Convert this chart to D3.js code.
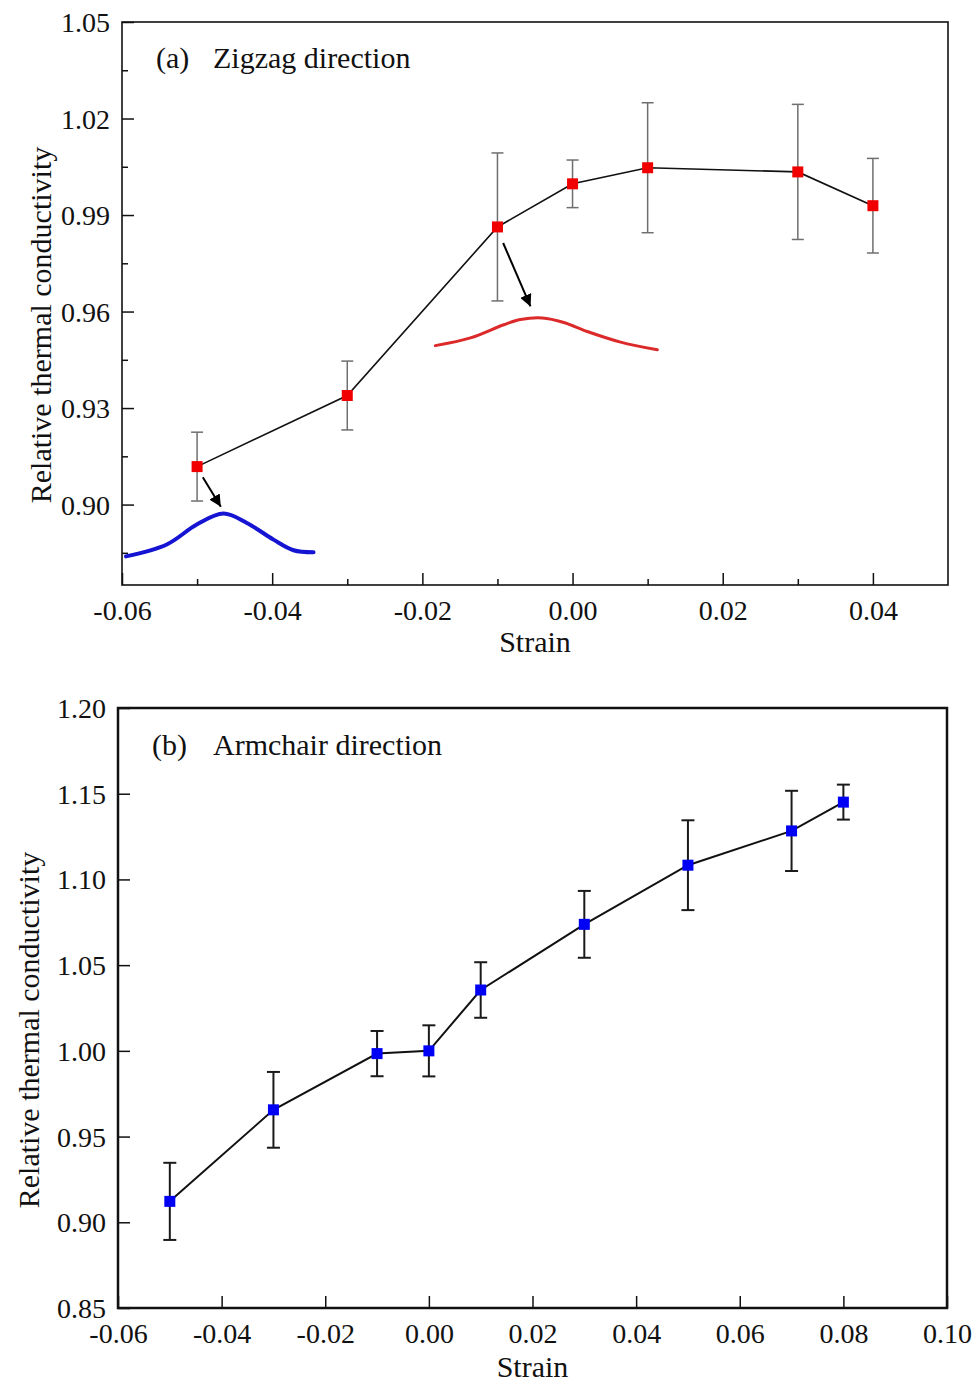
<!DOCTYPE html>
<html>
  <head>
    <meta charset="utf-8">
    <title>Relative thermal conductivity vs strain</title>
    <style>
    body { margin: 0; background: #fff; }
    svg text { font-family: "Liberation Serif", "Times New Roman", serif; fill: #111; }
    .tick line { stroke: #111; stroke-width: 1.5; }
    .tick text { font-size: 28px; }
    </style>
  </head>
  <body>
    <svg width="976" height="1382"></svg>
    <script src="https://d3js.org/d3.v7.min.js"></script>
    <script>

      // (a) zigzag direction
      var zigStrain = [-0.05, -0.03, -0.01, 0.00, 0.01, 0.03, 0.04];
      var zigValue  = [0.9118, 0.9339, 0.9863, 0.9997, 1.0047, 1.0034, 0.9929];
      var zigError  = [0.0107, 0.0107, 0.0230, 0.0074, 0.0202, 0.0210, 0.0147];
      var zigXTicks = [-0.06, -0.04, -0.02, 0.00, 0.02, 0.04];
      var zigXMinor = [-0.05, -0.03, -0.01, 0.01, 0.03, 0.05];
      var zigYTicks = [0.90, 0.93, 0.96, 0.99, 1.02, 1.05];
      var zigYMinor = [0.885, 0.915, 0.945, 0.975, 1.005, 1.035];

      // sketched curves inside panel (a), in data units [strain, value]
      var blueCurve = [[-0.05947, 0.8839], [-0.05404, 0.8876], [-0.05004, 0.8938], [-0.04649, 0.8972],
                       [-0.04337, 0.8943], [-0.03983, 0.8891], [-0.03716, 0.8858], [-0.03449, 0.8852]];
      var redCurve  = [[-0.01827, 0.9494], [-0.0136, 0.9518], [-0.00916, 0.9559], [-0.00693, 0.9575],
                       [-0.00404, 0.9580], [-0.00116, 0.9566], [0.00196, 0.9538], [0.0064, 0.9505], [0.01129, 0.9481]];
      var arrows    = [[[-0.04924, 0.9085], [-0.04684, 0.8993]],
                       [[-0.00924, 0.9813], [-0.00560, 0.9616]]];

      // (b) armchair direction
      var armStrain = [-0.05, -0.03, -0.01, 0.00, 0.01, 0.03, 0.05, 0.07, 0.08];
      var armValue  = [0.9122, 0.9656, 0.9984, 1.0000, 1.0355, 1.0738, 1.1083, 1.1283, 1.1451];
      var armError  = [0.0225, 0.0221, 0.0132, 0.0149, 0.0162, 0.0195, 0.0262, 0.0234, 0.0102];
      var armXTicks = [-0.06, -0.04, -0.02, 0.00, 0.02, 0.04, 0.06, 0.08, 0.10];
      var armYTicks = [0.85, 0.90, 0.95, 1.00, 1.05, 1.10, 1.15, 1.20];

      var svg = d3.select("svg");
      var fmt = function(d) { return d3.format(".2f")(Math.abs(d) < 1e-9 ? 0 : d).replace("\u2212", "-"); };

      svg.append("defs").append("marker")
          .attr("id", "head")
          .attr("viewBox", "0 0 10 10")
          .attr("refX", 10).attr("refY", 5)
          .attr("markerWidth", 12).attr("markerHeight", 12)
          .attr("markerUnits", "userSpaceOnUse")
          .attr("orient", "auto")
        .append("path")
          .attr("d", "M0,0L10,5L0,10Z")
          .attr("fill", "#000");

      function panel(o) {
        var x = d3.scaleLinear().domain(o.xDomain).range([o.left, o.right]),
            y = d3.scaleLinear().domain(o.yDomain).range([o.bottom, o.top]);
        var g = svg.append("g");

        g.append("g")
            .attr("transform", "translate(0," + o.bottom + ")")
            .call(d3.axisBottom(x).tickValues(o.xTicks).tickSizeInner(-12).tickSizeOuter(0).tickPadding(15).tickFormat(fmt))
            .call(function(a) { a.select(".domain").remove(); });
        g.append("g")
            .attr("transform", "translate(" + o.left + ",0)")
            .call(d3.axisLeft(y).tickValues(o.yTicks).tickSizeInner(-12).tickSizeOuter(0).tickPadding(12).tickFormat(fmt))
            .call(function(a) { a.select(".domain").remove(); a.selectAll("text").attr("dy", "0.34em"); });

        if (o.xMinor) {
          g.append("g")
              .attr("transform", "translate(0," + o.bottom + ")")
              .call(d3.axisBottom(x).tickValues(o.xMinor.filter(function(d) { return d < o.xDomain[1]; })).tickSizeInner(-6).tickSizeOuter(0).tickFormat(""))
              .call(function(a) { a.select(".domain").remove(); });
          g.append("g")
              .attr("transform", "translate(" + o.left + ",0)")
              .call(d3.axisLeft(y).tickValues(o.yMinor).tickSizeInner(-6).tickSizeOuter(0).tickFormat(""))
              .call(function(a) { a.select(".domain").remove(); });
        }

        g.append("rect")
            .attr("x", o.left).attr("y", o.top)
            .attr("width", o.right - o.left).attr("height", o.bottom - o.top)
            .attr("fill", "none").attr("stroke", "#111").attr("stroke-width", o.frame);

        var pts = o.strain.map(function(s, i) { return {s: s, v: o.value[i], e: o.error[i]}; });

        g.append("path")
            .datum(pts)
            .attr("fill", "none").attr("stroke", "#111").attr("stroke-width", o.lineWidth)
            .attr("d", d3.line().x(function(d) { return x(d.s); }).y(function(d) { return y(d.v); }));

        var eb = g.selectAll(".err").data(pts).enter().append("g")
            .attr("stroke", o.errColor).attr("stroke-width", o.errWidth);
        eb.append("line")
            .attr("x1", function(d) { return x(d.s); }).attr("x2", function(d) { return x(d.s); })
            .attr("y1", function(d) { return y(d.v + d.e); }).attr("y2", function(d) { return y(d.v - d.e); });
        [1, -1].forEach(function(sg) {
          eb.append("line")
              .attr("x1", function(d) { return x(d.s) - o.cap; }).attr("x2", function(d) { return x(d.s) + o.cap; })
              .attr("y1", function(d) { return y(d.v + sg * d.e); }).attr("y2", function(d) { return y(d.v + sg * d.e); });
        });

        g.selectAll(".pt").data(pts).enter().append("rect")
            .attr("x", function(d) { return x(d.s) - 5.5; })
            .attr("y", function(d) { return y(d.v) - 5.5; })
            .attr("width", 11).attr("height", 11)
            .attr("fill", o.color);

        g.append("text")
            .attr("x", o.tagX).attr("y", o.titleY)
            .attr("font-size", 30).text(o.tag);
        g.append("text")
            .attr("x", 213).attr("y", o.titleY)
            .attr("font-size", 30).text(o.title);

        g.append("text")
            .attr("x", (o.left + o.right) / 2).attr("y", o.xLabelY)
            .attr("text-anchor", "middle").attr("font-size", 30).text("Strain");
        g.append("text")
            .attr("transform", "translate(" + o.yLabelX + "," + o.yLabelMid + ") rotate(-90)")
            .attr("text-anchor", "middle").attr("font-size", 30).text("Relative thermal conductivity");

        return {g: g, x: x, y: y};
      }

      var a = panel({
        left: 122, right: 948, top: 22, bottom: 585,
        xDomain: [-0.06, 0.05], yDomain: [0.875, 1.05],
        xTicks: zigXTicks, yTicks: zigYTicks, xMinor: zigXMinor, yMinor: zigYMinor,
        strain: zigStrain, value: zigValue, error: zigError,
        color: "#f00000", errColor: "#6f6f6f", errWidth: 1.5, cap: 6, lineWidth: 1.6, frame: 1.6,
        tag: "(a)", tagX: 156, title: "Zigzag direction", titleY: 68,
        xLabelY: 652, yLabelX: 51, yLabelMid: 325
      });

      var curve = d3.line().curve(d3.curveCatmullRom)
          .x(function(d) { return a.x(d[0]); }).y(function(d) { return a.y(d[1]); });
      a.g.append("path").datum(blueCurve)
          .attr("fill", "none").attr("stroke", "#1414d2").attr("stroke-width", 4).attr("stroke-linecap", "round")
          .attr("d", curve);
      a.g.append("path").datum(redCurve)
          .attr("fill", "none").attr("stroke", "#dc2a2a").attr("stroke-width", 3).attr("stroke-linecap", "round")
          .attr("d", curve);
      a.g.selectAll(".arrow").data(arrows).enter().append("line")
          .attr("x1", function(d) { return a.x(d[0][0]); }).attr("y1", function(d) { return a.y(d[0][1]); })
          .attr("x2", function(d) { return a.x(d[1][0]); }).attr("y2", function(d) { return a.y(d[1][1]); })
          .attr("stroke", "#000").attr("stroke-width", 2)
          .attr("marker-end", "url(#head)");

      panel({
        left: 118, right: 947, top: 708, bottom: 1308,
        xDomain: [-0.06, 0.10], yDomain: [0.85, 1.20],
        xTicks: armXTicks, yTicks: armYTicks,
        strain: armStrain, value: armValue, error: armError,
        color: "#0000f5", errColor: "#1a1a1a", errWidth: 2, cap: 6.5, lineWidth: 2, frame: 2.5,
        tag: "(b)", tagX: 152, title: "Armchair direction", titleY: 755,
        xLabelY: 1377, yLabelX: 39, yLabelMid: 1030
      });
    </script>
  </body>
</html>
